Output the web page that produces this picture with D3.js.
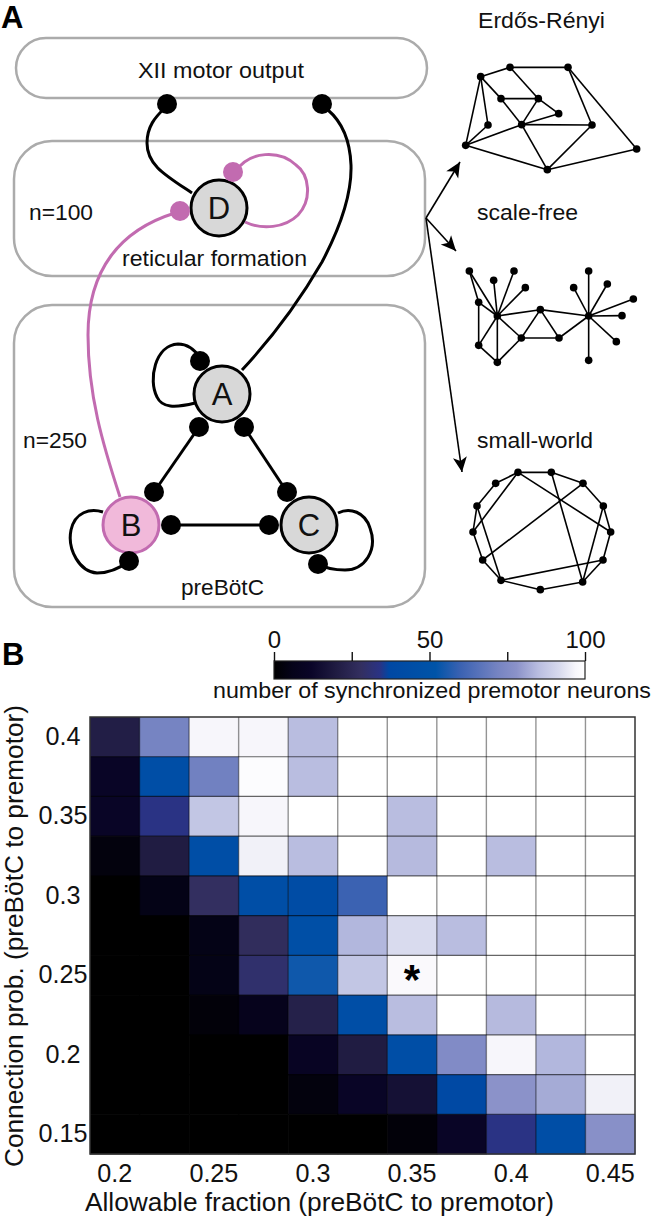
<!DOCTYPE html>
<html><head><meta charset="utf-8">
<script src="https://cdn.jsdelivr.net/npm/d3@7"></script>
<style>
html,body{margin:0;padding:0;background:#fff}
svg{display:block}
text{font-family:"Liberation Sans",Arial,sans-serif;fill:#111}
</style></head><body><svg id="c" width="652" height="1221"></svg>
<script>
// ---------- panel B data ----------
const fractions=["0.2","0.225","0.25","0.275","0.3","0.325","0.35","0.375","0.4","0.425","0.45"];
const probs=["0.4","0.375","0.35","0.325","0.3","0.275","0.25","0.225","0.2","0.175","0.15"];
const fractionTicks=["0.2","0.25","0.3","0.35","0.4","0.45"];
const probTicks=["0.4","0.35","0.3","0.25","0.2","0.15"];
const synced=[
[21,72,97,97,85,100,100,100,100,100,100],
[11,45,71,99,85,100,100,100,100,100,100],
[11,34,87,97,100,100,85,100,100,100,100],
[3,20,45,96,85,100,84.5,100,85,100,100],
[0,5,28,45,42,60,100,100,100,100,100],
[0,0,5,27,46,84,92,85,100,100,100],
[0,0,5,30,54,87,98,100,100,100,100],
[0,0,2,7,22,45,85,100,84.5,100,100],
[0,0,0,0,10,20,45,75,97,84,100],
[0,0,0,0,3,11,16,38,78,82,96],
[0,0,0,0,0,0,2,11,34,45,77]];
const cmapStops=[0,6,12,20,28,34,37,52,60,72,78,85,92,97,100];
const cmapColors=["#000000","#05031a","#0a0528","#201c42","#332f60","#2a3384","#0048a4","#0054a8","#3b62b2","#7684c2","#8b92c9","#b9bde0","#d9dbee","#f7f6fb","#ffffff"];
const barTicks=[0,25,50,75,100];
const barLabels=[0,50,100];

// ---------- panel A data (layout) ----------
const regions=[
 {x:16,y:38,w:411,h:60,r:30},
 {x:14,y:141,w:411,h:135,r:38},
 {x:14,y:305,w:411,h:302,r:38}];
const cells=[
 {id:"D",x:219,y:208,fill:"#d8d8d8",stroke:"#000"},
 {id:"A",x:222,y:394,fill:"#d8d8d8",stroke:"#000"},
 {id:"B",x:131,y:525,fill:"#f1b9da",stroke:"#c26bb0"},
 {id:"C",x:309,y:525,fill:"#d8d8d8",stroke:"#000"}];
const blackDots=[[167,104],[322,104],[200,361],[199,427],[244,427],[154,492],[171,525],[129,561],[287,492],[269,525],[318,564]];
const pinkDots=[[233,172],[180,211]];
const blackPaths=[
 "M192,193C165,175 147,165 147,143C147,127 155,117 165,108",
 "M242,370C270,340 300,300 322,262C340,228 352,195 351,165C350,140 342,122 328,110",
 "M195,403C175,408 162,408 157,397C148,380 155,345 178,344C187,344 195,350 200,358",
 "M103,512C90,508 75,512 71,530C67,550 80,572 97,573C108,573 120,568 129,561",
 "M338,513C350,507 365,512 370,528C378,550 365,570 345,570C335,570 325,568 318,564",
 "M199,427L154,492","M244,427L287,492","M171,525L269,525"];
const pinkPaths=[
 "M245,222C262,230 285,228 298,215C312,200 310,175 296,165C280,150 250,150 235,172",
 "M120,497C103,445 88,395 88,335C88,270 120,230 175,213"];
const arrowTips=[[460,162],[456,251],[462,472]];
const arrowFrom=[426,218];
const labels=[
 ["XII motor output",138,78,166],["n=100",29,220,64],["reticular formation",122,265.5,185],
 ["n=250",23,448,64],["preBötC",181,595,83],
 ["Erdős-Rényi",478,28,127],["scale-free",477,220,101],["small-world",477,448,116]];

const erNodes=[[152,230],[240,202],[414,202],[213,296],[325,296],[386,341],[174,375],[275,374],[486,375],[107,436],[352,509],[620,447]];
const erEdges=[[0,1],[1,2],[0,9],[0,6],[6,9],[0,3],[3,7],[7,10],[1,4],[3,4],[4,5],[4,7],[5,7],[7,9],[7,8],[8,2],[8,10],[2,11],[9,10],[10,11]];
const sfNodes=[[118,213],[191,241],[252,213],[286,263],[146,307],[202,348],[146,436],[202,487],[274,414],[331,329],[387,414],[476,348],[431,263],[476,213],[532,252],[610,297],[576,347],[559,425],[476,481]];
const sfEdges=[[0,4],[0,5],[1,5],[2,5],[3,5],[4,5],[4,6],[6,5],[6,7],[5,7],[7,8],[5,8],[5,9],[8,9],[8,10],[9,10],[9,11],[10,11],[11,12],[11,13],[11,14],[11,15],[11,16],[11,17],[11,18]];
const swNodes=[[264,157],[364,157],[459,190],[520,258],[542,336],[519,420],[458,486],[331,509],[213,481],[158,420],[129,336],[141,258],[197,190]];
const swEdges=[[0,1],[1,2],[2,3],[3,4],[4,5],[5,6],[6,7],[7,8],[8,9],[9,10],[10,11],[11,12],[12,0],[0,10],[0,4],[1,6],[2,9],[3,6],[5,8],[11,8]];

const svg=d3.select("#c");
const black="#000",pink="#c26bb0";
const defs=svg.append("defs");
defs.append("filter").attr("id","soft").append("feGaussianBlur").attr("stdDeviation",0.7);

// panel letters
svg.append("text").attr("x",1).attr("y",28).attr("font-size",31).attr("font-weight","bold").style("fill","#000").text("A");
svg.append("text").attr("x",2).attr("y",665).attr("font-size",31).attr("font-weight","bold").style("fill","#000").text("B");

// regions
svg.append("g").selectAll("rect").data(regions).join("rect")
 .attr("x",d=>d.x).attr("y",d=>d.y).attr("width",d=>d.w).attr("height",d=>d.h).attr("rx",d=>d.r)
 .attr("fill","none").attr("stroke","#ababab").attr("stroke-width",2.5);

// labels
svg.append("g").selectAll("text").data(labels).join("text")
 .attr("x",d=>d[1]).attr("y",d=>d[2]).attr("font-size",22.5)
 .attr("textLength",d=>d[3]).attr("lengthAdjust","spacingAndGlyphs").text(d=>d[0]);

// connections
const line=(sel,data,col)=>sel.append("g").selectAll("path").data(data).join("path")
 .attr("d",d=>d).attr("fill","none").attr("stroke",col).attr("stroke-width",3);
line(svg,blackPaths,black);
line(svg,pinkPaths,pink);

// cells
const cg=svg.append("g").selectAll("g").data(cells).join("g").attr("transform",d=>`translate(${d.x},${d.y})`);
cg.append("circle").attr("r",28).attr("fill",d=>d.fill).attr("stroke",d=>d.stroke).attr("stroke-width",3);
cg.append("text").attr("text-anchor","middle").attr("y",11).attr("font-size",31).text(d=>d.id);

// synapses
const dots=(data,col)=>svg.append("g").selectAll("circle").data(data).join("circle")
 .attr("cx",d=>d[0]).attr("cy",d=>d[1]).attr("r",10).attr("fill",col);
dots(blackDots,black);dots(pinkDots,pink);

// arrows
svg.append("g").selectAll("g").data(arrowTips).join("g").each(function(t){
 const g=d3.select(this),a=Math.atan2(t[1]-arrowFrom[1],t[0]-arrowFrom[0])*180/Math.PI;
 g.append("line").attr("x1",arrowFrom[0]).attr("y1",arrowFrom[1]).attr("x2",t[0]).attr("y2",t[1]).attr("stroke","#000").attr("stroke-width",1.6);
 g.append("path").attr("transform",`translate(${t[0]},${t[1]}) rotate(${a})`).attr("d","M0,0L-15,-7L-11,0L-15,7Z").attr("fill","#000");
});

// network sketches
function net(nodes,edges,ox,oy){
 const sx=d3.scaleLinear().domain([0,3]).range([ox,ox+1]);
 const sy=d3.scaleLinear().domain([0,3]).range([oy,oy+1]);
 const g=svg.append("g");
 g.selectAll("line").data(edges).join("line")
  .attr("x1",d=>sx(nodes[d[0]][0])).attr("y1",d=>sy(nodes[d[0]][1]))
  .attr("x2",d=>sx(nodes[d[1]][0])).attr("y2",d=>sy(nodes[d[1]][1]))
  .attr("stroke","#000").attr("stroke-width",1.6);
 g.selectAll("circle").data(nodes).join("circle")
  .attr("cx",d=>sx(d[0])).attr("cy",d=>sy(d[1])).attr("r",3.8).attr("fill","#000").attr("filter","url(#soft)");
}
net(erNodes,erEdges,430,0);
net(sfNodes,sfEdges,430,200);
net(swNodes,swEdges,430,420);

// ---------- panel B ----------
const L=90,R=635,T=717,B=1154;
const x=d3.scaleBand().domain(fractions).range([L,R]);
const y=d3.scaleBand().domain(probs).range([T,B]);
const color=d3.scaleLinear().domain(cmapStops).range(cmapColors).interpolate(d3.interpolateRgb);
const hm=svg.append("g");
synced.forEach((row,i)=>row.forEach((v,j)=>{
 hm.append("rect").attr("x",x(fractions[j])).attr("y",y(probs[i])).attr("width",x.bandwidth()+.5).attr("height",y.bandwidth()+.5).attr("fill",color(v));
}));
// grid
const grid=svg.append("g");
fractions.slice(1).forEach(f=>grid.append("line").attr("x1",x(f)).attr("x2",x(f)).attr("y1",T).attr("y2",B).attr("stroke","#000").attr("stroke-opacity",.42).attr("stroke-width",1.4));
probs.slice(1).forEach(p=>grid.append("line").attr("y1",y(p)).attr("y2",y(p)).attr("x1",L).attr("x2",R).attr("stroke","#000").attr("stroke-opacity",.6).attr("stroke-width",1.2));
svg.append("rect").attr("x",L).attr("y",T).attr("width",R-L).attr("height",B-T).attr("fill","none").attr("stroke","#333").attr("stroke-width",1.5);

// axes
const xAxis=svg.append("g").attr("transform",`translate(0,${B})`).call(d3.axisBottom(x).tickValues(fractionTicks).tickSize(0));
const yAxis=svg.append("g").attr("transform",`translate(${L},0)`).call(d3.axisLeft(y).tickValues(probTicks).tickSize(0));
[xAxis,yAxis].forEach(a=>{a.select(".domain").remove();a.selectAll("text").attr("font-family",null).style("font-size","25px").style("fill","#111");});
xAxis.selectAll("text").attr("y",28).attr("dy",0).attr("textLength",d=>d.length>3?49:35).attr("lengthAdjust","spacingAndGlyphs");
yAxis.selectAll("text").attr("x",-27).attr("text-anchor","middle").attr("textLength",d=>d.length>3?49:35).attr("lengthAdjust","spacingAndGlyphs");
svg.append("text").attr("x",85).attr("y",1211).attr("font-size",25.5).attr("textLength",469).attr("lengthAdjust","spacingAndGlyphs").text("Allowable fraction (preBötC to premotor)");
svg.append("text").attr("transform","translate(23,1167) rotate(-90)").attr("font-size",25.5).attr("textLength",462).attr("lengthAdjust","spacingAndGlyphs").text("Connection prob. (preBötC to premotor)");

// star
svg.append("text").attr("x",412).attr("y",994).attr("text-anchor","middle").attr("font-size",42).attr("font-weight","bold").style("fill","#000").text("*");

// colorbar
const bx=d3.scaleLinear().domain([0,100]).range([274,585]);
const grad=defs.append("linearGradient").attr("id","cm");
cmapStops.forEach((s,i)=>grad.append("stop").attr("offset",s+"%").attr("stop-color",cmapColors[i]));
svg.append("rect").attr("x",bx(0)).attr("y",661).attr("width",bx(100)-bx(0)).attr("height",18).attr("fill","url(#cm)").attr("stroke","#222").attr("stroke-width",1.2);
const bAxis=svg.append("g").attr("transform","translate(0,661)").call(d3.axisTop(bx).tickValues(barTicks).tickSize(9).tickPadding(4).tickFormat(d=>barLabels.includes(d)?d:""));
bAxis.select(".domain").remove();
bAxis.selectAll("line").attr("stroke","#111").attr("stroke-width",1.4);
bAxis.selectAll("text").attr("font-family",null).style("font-size","24px").style("fill","#111");
svg.append("text").attr("x",213).attr("y",698).attr("font-size",22.5).attr("textLength",438).attr("lengthAdjust","spacingAndGlyphs").text("number of synchronized premotor neurons");
</script></body></html>
